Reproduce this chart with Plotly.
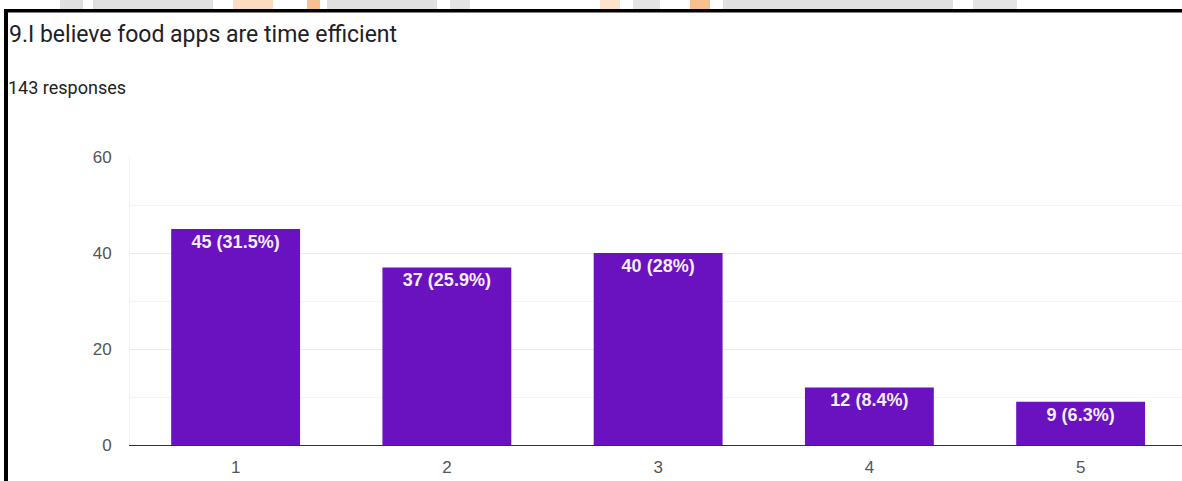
import plotly.graph_objects as go

categories = [1, 2, 3, 4, 5]
counts = [45, 37, 40, 12, 9]
percents = ["31.5%", "25.9%", "28%", "8.4%", "6.3%"]
y_ticks = [0, 20, 40, 60]
title_text = "9.I believe food apps are time efficient"
subtitle_text = "143 responses"

W, H = 1182, 481
L, R, T, B = 130, 1182, 157, 445


def px_x(px):
    return (px - L) / (R - L)


def px_y(py):
    return (B - py) / (B - T)


labels = [f"{c} ({p})" for c, p in zip(counts, percents)]

fig = go.Figure(go.Bar(
    x=categories,
    y=counts,
    width=0.61,
    marker=dict(color="#6a12bf", line=dict(width=0)),
    text=labels,
    textposition="inside",
    insidetextanchor="end",
    textangle=0,
    textfont=dict(family="Liberation Sans, Arial", size=18, color="#f4eefc", weight="bold"),
    cliponaxis=False,
))

shapes = []
# watermark fragments above the frame
wm = [(60, 83, "#e0e0e0"), (93, 213, "#e0e0e0"), (233, 273, "#fcdcc0"), (307, 320, "#f8bf90"),
      (327, 437, "#e0e0e0"), (450, 470, "#e4e4e4"), (600, 620, "#fde2cc"), (633, 660, "#e4e4e4"),
      (690, 710, "#f8bf90"), (723, 953, "#e0e0e0"), (973, 1017, "#e4e4e4")]
for x0, x1, col in wm:
    shapes.append(dict(type="rect", xref="paper", yref="paper", x0=px_x(x0), x1=px_x(x1),
                       y0=px_y(9), y1=px_y(0), fillcolor=col, line=dict(width=0), layer="below"))
# black frame (top and left)
shapes.append(dict(type="rect", xref="paper", yref="paper", x0=px_x(4), x1=px_x(1182),
                   y0=px_y(12.5), y1=px_y(9), fillcolor="black", line=dict(width=0)))
shapes.append(dict(type="rect", xref="paper", yref="paper", x0=px_x(4), x1=px_x(8),
                   y0=px_y(481), y1=px_y(9), fillcolor="black", line=dict(width=0)))

fig.update_layout(
    width=W, height=H,
    margin=dict(l=L, r=W - R, t=T, b=H - B, pad=0),
    paper_bgcolor="white", plot_bgcolor="white",
    showlegend=False,
    shapes=shapes,
    uniformtext=dict(minsize=18, mode="show"),
    annotations=[
        dict(text=title_text, xref="paper", yref="paper", x=px_x(7), y=px_y(35),
             xanchor="left", yanchor="middle", showarrow=False,
             font=dict(family="Roboto, Arial", size=23, color="#202124")),
        dict(text=subtitle_text, xref="paper", yref="paper", x=px_x(6), y=px_y(87),
             xanchor="left", yanchor="middle", showarrow=False,
             font=dict(family="Roboto, Arial", size=18, color="#202124")),
    ],
    xaxis=dict(
        range=[0.5, 0.5 + (R - L) / 211.25],
        tickmode="array", tickvals=categories, ticktext=[str(c) for c in categories],
        showgrid=False, zeroline=False,
        showline=True, linecolor="#333333", linewidth=1.3,
        ticks="outside", ticklen=6, tickcolor="rgba(0,0,0,0)",
        tickfont=dict(family="Liberation Sans, Arial", size=17, color="#555555"),
        fixedrange=True,
    ),
    yaxis=dict(
        range=[0, 60],
        tickmode="array", tickvals=y_ticks,
        showgrid=True, gridcolor="#ebebeb", gridwidth=1,
        minor=dict(dtick=10, tick0=0, showgrid=True, gridcolor="#f4f4f4", gridwidth=1),
        zeroline=False,
        showline=True, linecolor="#f2f2f2", linewidth=1,
        ticks="outside", ticklen=14, tickcolor="rgba(0,0,0,0)",
        tickfont=dict(family="Liberation Sans, Arial", size=17, color="#555555"),
        fixedrange=True,
    ),
)

fig.write_html("out.html", config={"displayModeBar": False},
               post_script="document.body.style.margin='0';document.body.style.padding='0';")
